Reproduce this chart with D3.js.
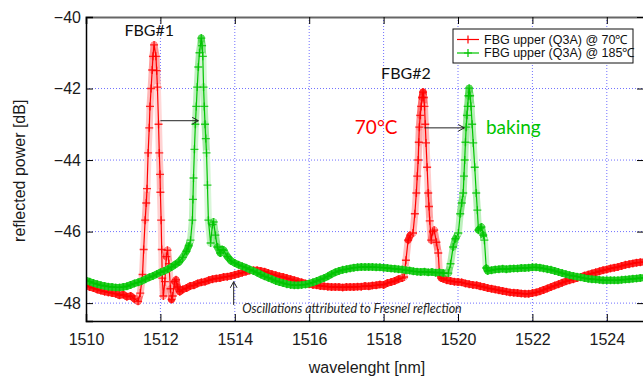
<!DOCTYPE html>
<html>
<head>
<meta charset="utf-8">
<script src="https://cdn.jsdelivr.net/npm/d3@7/dist/d3.min.js"></script>
<style>
  body { margin: 0; background: #fff; }
  svg { display: block; }
</style>
</head>
<body>
<div id="chart"></div>
<script>
// data: [wavelength nm, reflected power dB]
let red70 = [
  [1510.0, -47.50], [1510.1, -47.55], [1510.2, -47.58], [1510.3, -47.62], [1510.4, -47.65],
  [1510.5, -47.68], [1510.6, -47.70], [1510.7, -47.72], [1510.8, -47.74], [1510.9, -47.78],
  [1511.0, -47.76], [1511.1, -47.82], [1511.2, -47.80], [1511.3, -47.88], [1511.4, -47.95],
  [1511.46, -47.72], [1511.52, -47.2], [1511.55, -46.5], [1511.59, -45.68], [1511.62, -45.2],
  [1511.64, -44.8], [1511.67, -43.8], [1511.7, -43.1], [1511.72, -42.5], [1511.75, -42.0],
  [1511.78, -41.48], [1511.8, -41.1], [1511.83, -40.78], [1511.88, -41.1], [1511.9, -41.5],
  [1511.92, -41.96], [1511.95, -43.0], [1511.97, -43.8], [1511.99, -44.4], [1512.0, -44.9],
  [1512.02, -45.68], [1512.035, -46.5], [1512.05, -47.3], [1512.08, -47.8],
  [1512.12, -47.4], [1512.16, -46.7], [1512.19, -46.52], [1512.23, -46.9], [1512.27, -47.6],
  [1512.3, -47.9], [1512.33, -47.8], [1512.38, -47.4], [1512.42, -47.35], [1512.46, -47.55],
  [1512.52, -47.68], [1512.6, -47.62], [1512.7, -47.58], [1512.8, -47.52], [1512.9, -47.5],
  [1513.0, -47.45], [1513.1, -47.42], [1513.2, -47.4], [1513.3, -47.36], [1513.4, -47.33],
  [1513.5, -47.31], [1513.6, -47.3], [1513.7, -47.27], [1513.8, -47.26], [1513.9, -47.24],
  [1514.0, -47.21], [1514.1, -47.18], [1514.2, -47.15], [1514.3, -47.12], [1514.4, -47.09],
  [1514.5, -47.08], [1514.6, -47.08], [1514.7, -47.1], [1514.8, -47.12], [1514.9, -47.16],
  [1515.0, -47.19], [1515.1, -47.22], [1515.2, -47.25], [1515.3, -47.27], [1515.4, -47.3],
  [1515.5, -47.33], [1515.6, -47.36], [1515.7, -47.39], [1515.8, -47.42], [1515.9, -47.45],
  [1516.0, -47.47], [1516.1, -47.49], [1516.2, -47.5], [1516.3, -47.52], [1516.4, -47.53],
  [1516.5, -47.54], [1516.6, -47.55], [1516.7, -47.55], [1516.8, -47.55], [1516.9, -47.56],
  [1517.0, -47.55], [1517.1, -47.55], [1517.2, -47.55], [1517.3, -47.54], [1517.4, -47.54],
  [1517.5, -47.52], [1517.6, -47.53], [1517.7, -47.51], [1517.8, -47.5], [1517.9, -47.48],
  [1518.0, -47.49], [1518.1, -47.44], [1518.2, -47.41], [1518.3, -47.38], [1518.4, -47.33],
  [1518.5, -47.3], [1518.55, -47.27], [1518.6, -46.8], [1518.66, -46.24], [1518.72, -46.1],
  [1518.79, -46.04], [1518.84, -45.5], [1518.88, -44.92], [1518.905, -44.45], [1518.93, -44.0],
  [1518.945, -43.5], [1518.96, -43.08], [1518.985, -42.75], [1519.01, -42.5], [1519.035, -42.25],
  [1519.06, -42.1], [1519.08, -42.25], [1519.1, -42.5], [1519.12, -43.0], [1519.14, -43.52],
  [1519.17, -44.2], [1519.2, -44.92], [1519.22, -45.3], [1519.24, -45.7], [1519.28, -46.24],
  [1519.32, -46.0], [1519.36, -45.96], [1519.42, -46.3],
  [1519.47, -46.6], [1519.5, -47.16], [1519.55, -47.3], [1519.6, -47.32], [1519.7, -47.36],
  [1519.8, -47.38], [1519.9, -47.4], [1520.0, -47.41], [1520.1, -47.42], [1520.2, -47.45],
  [1520.3, -47.47], [1520.4, -47.49], [1520.5, -47.5], [1520.6, -47.53], [1520.7, -47.55],
  [1520.8, -47.58], [1520.9, -47.6], [1521.0, -47.62], [1521.1, -47.64], [1521.2, -47.66],
  [1521.3, -47.68], [1521.4, -47.7], [1521.5, -47.71], [1521.6, -47.72], [1521.7, -47.73],
  [1521.8, -47.74], [1521.9, -47.74], [1522.0, -47.72], [1522.1, -47.7], [1522.2, -47.67],
  [1522.3, -47.63], [1522.4, -47.59], [1522.5, -47.55], [1522.6, -47.51], [1522.7, -47.47],
  [1522.8, -47.43], [1522.9, -47.39], [1523.0, -47.36], [1523.1, -47.33], [1523.2, -47.3],
  [1523.3, -47.27], [1523.4, -47.23], [1523.5, -47.2], [1523.6, -47.17], [1523.7, -47.14],
  [1523.8, -47.11], [1523.9, -47.08], [1524.0, -47.06], [1524.1, -47.03], [1524.2, -47.01],
  [1524.3, -46.99], [1524.4, -46.96], [1524.5, -46.93], [1524.6, -46.91], [1524.7, -46.89],
  [1524.8, -46.87], [1524.9, -46.86], [1525.0, -46.85]
]

let green185 = [
  [1510.0, -47.36], [1510.1, -47.4], [1510.2, -47.44], [1510.3, -47.47], [1510.4, -47.5],
  [1510.5, -47.52], [1510.6, -47.54], [1510.7, -47.55], [1510.8, -47.56], [1510.9, -47.56],
  [1511.0, -47.55], [1511.1, -47.53], [1511.2, -47.49], [1511.3, -47.45], [1511.4, -47.42],
  [1511.5, -47.38], [1511.6, -47.33], [1511.7, -47.28], [1511.8, -47.24], [1511.9, -47.19],
  [1512.0, -47.14], [1512.1, -47.1], [1512.2, -47.05], [1512.3, -46.99], [1512.4, -46.92],
  [1512.5, -46.85], [1512.6, -46.72], [1512.7, -46.55], [1512.76, -46.4], [1512.81, -46.24],
  [1512.86, -45.68], [1512.875, -45.1], [1512.89, -44.5], [1512.915, -43.7], [1512.94, -43.0],
  [1512.965, -42.5], [1512.99, -41.96], [1513.02, -41.4], [1513.05, -41.0], [1513.1, -40.59],
  [1513.12, -40.8], [1513.14, -41.1], [1513.16, -41.96], [1513.18, -42.5], [1513.2, -43.0],
  [1513.22, -43.4], [1513.24, -43.8], [1513.265, -44.7], [1513.29, -45.68],
  [1513.35, -46.32], [1513.4, -45.8], [1513.43, -45.73], [1513.48, -46.1],
  [1513.53, -46.43], [1513.61, -46.6], [1513.66, -46.5], [1513.7, -46.52], [1513.8, -46.7],
  [1513.9, -46.82], [1514.0, -46.88], [1514.1, -46.93], [1514.2, -46.97], [1514.3, -47.01],
  [1514.4, -47.06], [1514.5, -47.1], [1514.6, -47.15], [1514.7, -47.2], [1514.8, -47.25],
  [1514.9, -47.29], [1515.0, -47.33], [1515.1, -47.38], [1515.2, -47.41], [1515.3, -47.44],
  [1515.4, -47.47], [1515.5, -47.49], [1515.6, -47.5], [1515.7, -47.5], [1515.8, -47.49],
  [1515.9, -47.48], [1516.0, -47.45], [1516.1, -47.42], [1516.2, -47.38], [1516.3, -47.34],
  [1516.4, -47.3], [1516.5, -47.25], [1516.6, -47.19], [1516.7, -47.14], [1516.8, -47.1],
  [1516.9, -47.07], [1517.0, -47.05], [1517.1, -47.03], [1517.2, -47.01], [1517.3, -47.0],
  [1517.4, -46.99], [1517.5, -46.99], [1517.6, -46.99], [1517.7, -46.99], [1517.8, -47.0],
  [1517.9, -47.0], [1518.0, -47.01], [1518.1, -47.02], [1518.2, -47.03], [1518.3, -47.04],
  [1518.4, -47.05], [1518.5, -47.06], [1518.6, -47.08], [1518.7, -47.09], [1518.8, -47.11],
  [1518.9, -47.12], [1519.0, -47.13], [1519.1, -47.12], [1519.2, -47.14], [1519.3, -47.13],
  [1519.4, -47.15], [1519.5, -47.14], [1519.6, -47.16], [1519.74, -47.16], [1519.8, -46.9],
  [1519.87, -46.43], [1519.93, -46.2], [1520.01, -46.04], [1520.06, -45.5], [1520.1, -45.2],
  [1520.14, -44.92], [1520.16, -44.45], [1520.18, -44.0], [1520.2, -43.5], [1520.22, -43.08],
  [1520.24, -42.75], [1520.26, -42.5], [1520.28, -42.2], [1520.3, -41.99], [1520.325, -42.2],
  [1520.35, -42.5], [1520.38, -43.0], [1520.41, -43.52], [1520.45, -44.2], [1520.49, -44.92],
  [1520.52, -45.4], [1520.55, -45.96], [1520.6, -45.9], [1520.63, -45.87],
  [1520.68, -46.1], [1520.71, -46.24], [1520.76, -47.02], [1520.8, -47.1], [1520.9, -47.08],
  [1521.0, -47.06], [1521.1, -47.05], [1521.2, -47.04], [1521.3, -47.05], [1521.4, -47.04],
  [1521.5, -47.03], [1521.6, -47.03], [1521.7, -47.02], [1521.8, -47.02], [1521.9, -47.01],
  [1522.0, -47.0], [1522.1, -47.0], [1522.2, -47.01], [1522.3, -47.03], [1522.4, -47.05],
  [1522.5, -47.07], [1522.6, -47.1], [1522.7, -47.13], [1522.8, -47.16], [1522.9, -47.19],
  [1523.0, -47.22], [1523.1, -47.24], [1523.2, -47.26], [1523.3, -47.28], [1523.4, -47.3],
  [1523.5, -47.32], [1523.6, -47.33], [1523.7, -47.34], [1523.8, -47.35], [1523.9, -47.36],
  [1524.0, -47.36], [1524.1, -47.36], [1524.2, -47.36], [1524.3, -47.36], [1524.4, -47.35],
  [1524.5, -47.34], [1524.6, -47.33], [1524.7, -47.32], [1524.8, -47.31], [1524.9, -47.3],
  [1525.0, -47.29]
]

let xTicks = [1510, 1512, 1514, 1516, 1518, 1520, 1522, 1524]
let yTicks = [-48, -46, -44, -42, -40]
let seriesNames = ['FBG upper (Q3A) @ 70\u2103', 'FBG upper (Q3A) @ 185\u2103']
let seriesColors = ['#ff0000', '#00c400']

let margin = { top: 17, left: 86, right: -1, bottom: 59 }
let width = 643 - margin.left - margin.right
let height = 380 - margin.top - margin.bottom

let svg = d3
  .select('#chart')
  .append('svg')
  .attr('width', 643)
  .attr('height', 380)
  .append('g')
  .attr('transform', `translate(${margin.left},${margin.top})`)

// scales

let xScale = d3.scaleLinear().domain([1510, 1525]).range([0, width])
let yScale = d3.scaleLinear().domain([-48.5, -40]).range([height, 0])

// grid

svg
  .selectAll('.vgrid')
  .data(xTicks.slice(1))
  .enter()
  .append('line')
  .attr('x1', d => xScale(d))
  .attr('x2', d => xScale(d))
  .attr('y1', 0)
  .attr('y2', height)
  .attr('stroke', '#7070ff')
  .attr('stroke-dasharray', '1,2')

svg
  .selectAll('.hgrid')
  .data(yTicks.slice(0, -1))
  .enter()
  .append('line')
  .attr('x1', 0)
  .attr('x2', width)
  .attr('y1', d => yScale(d))
  .attr('y2', d => yScale(d))
  .attr('stroke', '#7070ff')
  .attr('stroke-dasharray', '1,2')

// curves

svg
  .append('clipPath')
  .attr('id', 'plot-clip')
  .append('rect')
  .attr('width', width)
  .attr('height', height)

let line = d3
  .line()
  .x(d => xScale(d[0]))
  .y(d => yScale(d[1]))

let plot = svg.append('g').attr('clip-path', 'url(#plot-clip)')

;[red70, green185].forEach((series, i) => {
  let g = plot.append('g')

  // the trace is so dense that its "+" markers merge into a band where it is flat;
  // on the steep flanks they spread out, so the band fades with segment length
  g.selectAll('.band')
    .data(d3.pairs(series))
    .enter()
    .append('line')
    .attr('x1', d => xScale(d[0][0]))
    .attr('y1', d => yScale(d[0][1]))
    .attr('x2', d => xScale(d[1][0]))
    .attr('y2', d => yScale(d[1][1]))
    .attr('stroke', d => {
      let len = Math.hypot(xScale(d[1][0]) - xScale(d[0][0]), yScale(d[1][1]) - yScale(d[0][1]))
      let t = Math.max(0.15, Math.min(0.85, 5 / len))
      return d3.interpolateRgb('#ffffff', seriesColors[i])(t)
    })
    .attr('stroke-width', 7)
    .attr('stroke-linecap', 'round')

  g.append('path')
    .datum(series)
    .attr('d', line)
    .attr('fill', 'none')
    .attr('stroke', seriesColors[i])
    .attr('stroke-width', 1.2)

  g.selectAll('.marker')
    .data(series)
    .enter()
    .append('path')
    .attr('d', 'M-4,0H4M0,-4V4')
    .attr('transform', d => `translate(${xScale(d[0])},${yScale(d[1])})`)
    .attr('stroke', seriesColors[i])
    .attr('stroke-width', 1.4)
    .attr('opacity', 0.8)
})

// axes, ticks on all four sides pointing inward

svg
  .append('g')
  .attr('transform', `translate(0,${height})`)
  .call(d3.axisBottom(xScale).tickValues(xTicks).tickSize(-7).tickPadding(13).tickFormat(d3.format('d')))
  .call(g => g.select('.domain').attr('stroke-width', 1.5))

svg
  .append('g')
  .call(d3.axisTop(xScale).tickValues(xTicks).tickSize(-7).tickFormat(''))
  .call(g => g.select('.domain').attr('stroke', '#666').attr('stroke-width', 2))

svg
  .append('g')
  .call(d3.axisLeft(yScale).tickValues(yTicks).tickSize(-7).tickPadding(5))
  .call(g => g.select('.domain').attr('stroke-width', 1.5))

svg
  .append('g')
  .attr('transform', `translate(${width},0)`)
  .call(d3.axisRight(yScale).tickValues(yTicks).tickSize(-7).tickFormat(''))

svg
  .selectAll('.tick text')
  .attr('font-family', 'Liberation Sans, Arial, sans-serif')
  .attr('font-size', 16)
  .attr('fill', '#1a1a1a')

// axis titles

svg
  .append('text')
  .text('wavelenght [nm]')
  .attr('x', 281)
  .attr('y', 356)
  .attr('text-anchor', 'middle')
  .attr('font-family', 'Liberation Sans, Arial, sans-serif')
  .attr('font-size', 16)
  .attr('fill', '#1a1a1a')

svg
  .append('text')
  .text('reflected power [dB]')
  .attr('transform', `translate(-61,${yScale(-44.3)}) rotate(-90)`)
  .attr('text-anchor', 'middle')
  .attr('font-family', 'Liberation Sans, Arial, sans-serif')
  .attr('font-size', 16)
  .attr('fill', '#1a1a1a')

// annotations

let ann = svg.append('g').attr('font-family', 'Lato, sans-serif')

ann.append('text').text('FBG#1')
  .attr('x', xScale(1511.7)).attr('y', 19)
  .attr('text-anchor', 'middle').attr('font-size', 16).attr('fill', '#111')

ann.append('text').text('FBG#2')
  .attr('x', xScale(1518.6)).attr('y', 62)
  .attr('text-anchor', 'middle').attr('font-size', 16).attr('fill', '#111')

ann.append('text').text('70°C')
  .attr('x', xScale(1517.8)).attr('y', 117)
  .attr('text-anchor', 'middle').attr('font-size', 19).attr('fill', '#ff0000')

ann.append('text').text('baking')
  .attr('x', xScale(1520.75)).attr('y', 117)
  .attr('font-size', 19).attr('fill', '#00c400')

ann.append('text').text('Oscillations attributed to Fresnel reflection')
  .attr('x', xScale(1514.2)).attr('y', 296)
  .attr('font-size', 12.5).attr('font-style', 'italic').attr('fill', '#222')

// arrows

let arrows = [
  { x1: 1512.0, y1: -42.9, x2: 1513.02, y2: -42.9 },
  { x1: 1519.1, y1: -43.1, x2: 1520.17, y2: -43.1 },
  { x1: 1513.97, y1: -48.05, x2: 1513.97, y2: -47.4 }
]

arrows.forEach(a => {
  let x1 = xScale(a.x1), y1 = yScale(a.y1), x2 = xScale(a.x2), y2 = yScale(a.y2)
  let ang = Math.atan2(y2 - y1, x2 - x1)
  let head = [-0.5, 0.5].map(o => [x2 - 7 * Math.cos(ang + o), y2 - 7 * Math.sin(ang + o)])
  svg.append('line')
    .attr('x1', x1).attr('y1', y1).attr('x2', x2).attr('y2', y2)
    .attr('stroke', '#222').attr('stroke-width', 1)
  svg.append('path')
    .attr('d', `M${head[0]}L${x2},${y2}L${head[1]}`)
    .attr('fill', 'none').attr('stroke', '#222').attr('stroke-width', 1)
})

// legend

let legend = svg.append('g').attr('transform', `translate(${453 - margin.left},${29 - margin.top})`)

legend.append('rect')
  .attr('width', 180).attr('height', 34)
  .attr('fill', '#fff').attr('stroke', '#111').attr('stroke-width', 1)

legend
  .selectAll('.legend-entry')
  .data(seriesNames)
  .enter()
  .append('g')
  .attr('transform', (d, i) => `translate(0,${10.5 + i * 13.5})`)
  .each(function(d, i) {
    let g = d3.select(this)
    g.append('line')
      .attr('x1', 4).attr('x2', 26)
      .attr('stroke', seriesColors[i]).attr('stroke-width', 1.2)
    g.append('path')
      .attr('d', 'M11,0H19M15,-4V4')
      .attr('stroke', seriesColors[i]).attr('stroke-width', 1.2)
    g.append('text')
      .text(d)
      .attr('x', 31)
      .attr('dy', '0.35em')
      .attr('font-family', 'Liberation Sans, Arial, sans-serif')
      .attr('font-size', 12.5)
      .attr('fill', '#111')
  })
</script>
</body>
</html>
